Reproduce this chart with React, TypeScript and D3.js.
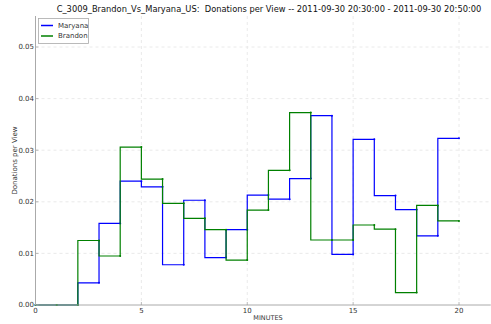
import React from "react";
import * as d3 from "d3";

const minutes = [0,1,2,3,4,5,6,7,8,9,10,11,12,13,14,15,16,17,18,19,20];
const maryana = [0,0,0,0.0043,0.0158,0.0240,0.0229,0.0078,0.0203,0.0092,0.0146,0.0213,0.0205,0.0245,0.0367,0.0098,0.0321,0.0212,0.0185,0.0134,0.0323];
const brandon = [0,0,0,0.0125,0.0095,0.0306,0.0244,0.0197,0.0168,0.0146,0.0087,0.0184,0.0261,0.0373,0.0126,0.0126,0.0155,0.0147,0.0024,0.0193,0.0163];
const xTicks = [0,5,10,15,20];
const yTicks = [0,0.01,0.02,0.03,0.04,0.05];
const seriesNames = ["Maryana","Brandon"];
const seriesColors = ["#0000ff","#008000"];
const title = "C_3009_Brandon_Vs_Maryana_US:  Donations per View -- 2011-09-30 20:30:00 - 2011-09-30 20:50:00";

export default function App() {
  const W = 491, H = 324;
  const x = d3.scaleLinear().domain([0, 20]).range([35.5, 459]);
  const y = d3.scaleLinear().domain([0, 0.05]).range([305, 47]);
  const left = x(0), right = x(21.5), bottom = y(0), top = 16;
  const line = d3.line<[number, number]>().x(d => x(d[0])).y(d => y(d[1])).curve(d3.curveStepBefore);
  const series = [maryana, brandon];
  const font = "DejaVu Sans, sans-serif";
  return (
    <svg width={W} height={H} style={{position:"absolute", left:0, top:0, background:"#fff"}} fontFamily={font}>
      {xTicks.filter(t => t > 0).map(t => (
        <line key={"gx"+t} x1={x(t)} x2={x(t)} y1={top} y2={bottom} stroke="#e4e4e4" strokeWidth={0.8} strokeDasharray="3,3" />
      ))}
      {yTicks.filter(t => t > 0).map(t => (
        <line key={"gy"+t} x1={left} x2={right} y1={y(t)} y2={y(t)} stroke="#e4e4e4" strokeWidth={0.8} strokeDasharray="3,3" />
      ))}
      {series.map((s, i) => {
        const pts: [number, number][] = minutes.map((m, j) => [m, s[j]]);
        return (
          <g key={"s"+i}>
            <path d={line(pts) || ""} fill="none" stroke={seriesColors[i]} strokeWidth={1.2} />
            {pts.map((p, j) => (
              <circle key={j} cx={x(p[0])} cy={y(p[1])} r={1} fill={seriesColors[i]} />
            ))}
          </g>
        );
      })}
      <line x1={left} x2={left} y1={top} y2={bottom} stroke="#aaaaaa" strokeWidth={1} />
      <line x1={left} x2={right} y1={bottom} y2={bottom} stroke="#aaaaaa" strokeWidth={1} />
      {yTicks.map(t => (
        <g key={"ty"+t}>
          <line x1={left} x2={left+3} y1={y(t)} y2={y(t)} stroke="#aaaaaa" strokeWidth={0.8} />
          <text x={left-1.5} y={y(t)} dy="0.35em" textAnchor="end" fontSize={7} fill="#333">{t.toFixed(2)}</text>
        </g>
      ))}
      {xTicks.map(t => (
        <g key={"tx"+t}>
          <line x1={x(t)} x2={x(t)} y1={bottom} y2={bottom-3} stroke="#aaaaaa" strokeWidth={0.8} />
          <text x={x(t)} y={bottom+7.5} textAnchor="middle" fontSize={7} fill="#333">{t}</text>
        </g>
      ))}
      <text x={268} y={320} textAnchor="middle" fontSize={6.5} fill="#333">MINUTES</text>
      <text transform={`translate(17,${(top+bottom)/2}) rotate(-90)`} textAnchor="middle" fontSize={7} fill="#333">Donations per View</text>
      <text x={269} y={12} textAnchor="middle" fontSize={8.3} fill="#111" style={{whiteSpace:"pre"}}>{title}</text>
      <rect x={38.5} y={18.5} width={50} height={25} fill="#fff" stroke="#aaaaaa" strokeWidth={0.8} />
      {seriesNames.map((n, i) => (
        <g key={"lg"+i}>
          <line x1={41} x2={53} y1={25.5 + i*10.5} y2={25.5 + i*10.5} stroke={seriesColors[i]} strokeWidth={1.5} />
          <text x={58} y={25.5 + i*10.5} dy="0.35em" fontSize={7} fill="#333">{n}</text>
        </g>
      ))}
    </svg>
  );
}
